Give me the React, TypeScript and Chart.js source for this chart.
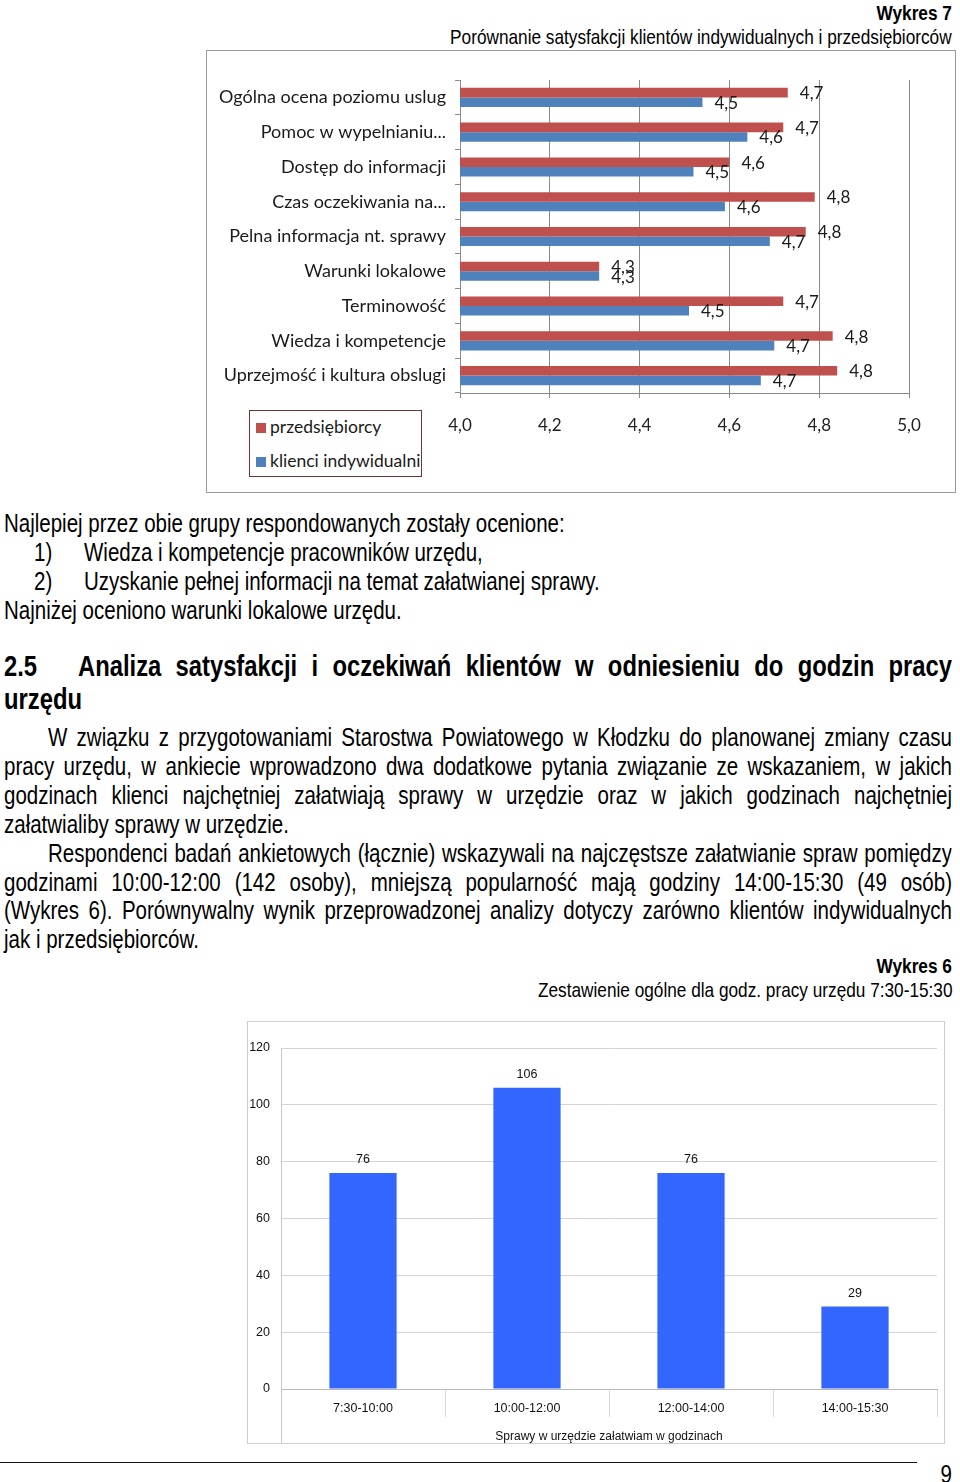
import React, { useEffect, useRef } from 'react';
import { Chart, registerables } from 'chart.js';

Chart.register(...registerables);

// ---------- Wykres 7 data ----------
const satisfactionCategories = [
  'Ogólna ocena poziomu uslug',
  'Pomoc w wypelnianiu...',
  'Dostęp do informacji',
  'Czas oczekiwania na...',
  'Pelna informacja nt. sprawy',
  'Warunki lokalowe',
  'Terminowość',
  'Wiedza i kompetencje',
  'Uprzejmość i kultura obslugi',
];
const przedsiebiorcyValues = [4.73, 4.72, 4.6, 4.79, 4.77, 4.31, 4.72, 4.83, 4.84];
const klienciValues = [4.54, 4.64, 4.52, 4.59, 4.69, 4.31, 4.51, 4.7, 4.67];
const satisfactionSeries = ['przedsiębiorcy', 'klienci indywidualni'];
const satisfactionColors = ['#C0504D', '#4F81BD'];
const satisfactionTicks = [4.0, 4.2, 4.4, 4.6, 4.8, 5.0];

// ---------- Wykres 6 data ----------
const hourCategories = ['7:30-10:00', '10:00-12:00', '12:00-14:00', '14:00-15:30'];
const hourValues = [76, 106, 76, 29];
const hourTicks = [0, 20, 40, 60, 80, 100, 120];
const hourAxisTitle = 'Sprawy w urzędzie załatwiam w godzinach';

const chartFont = 'Lato, "Open Sans", sans-serif';
const smallFont = '"Liberation Sans", Arial, sans-serif';
const bodyFont = '"Liberation Sans", Arial, sans-serif';
const NARROW = 0.82;

const fmtComma = (v: number) => v.toFixed(1).replace('.', ',');

const valueLabels = {
  id: 'valueLabels',
  afterDatasetsDraw(chart: any, _args: any, opts: any) {
    if (!opts || !opts.mode) return;
    const { ctx } = chart;
    ctx.save();
    ctx.font = opts.font;
    ctx.fillStyle = opts.color;
    chart.data.datasets.forEach((ds: any, di: number) => {
      const meta = chart.getDatasetMeta(di);
      meta.data.forEach((el: any, i: number) => {
        const v = ds.data[i];
        ctx.textBaseline = 'middle';
        if (opts.mode === 'right') {
          ctx.textAlign = 'left';
          ctx.fillText(opts.format(v), el.x + opts.offset, el.y + 1);
        } else {
          ctx.textAlign = 'center';
          ctx.fillText(opts.format(v), el.x, el.y - opts.offset);
        }
      });
    });
    ctx.restore();
  },
};

const leftLineExtend = {
  id: 'leftLineExtend',
  afterDraw(chart: any, _args: any, opts: any) {
    if (!opts || !opts.enabled) return;
    const { ctx, chartArea } = chart;
    ctx.save();
    ctx.strokeStyle = opts.color;
    ctx.lineWidth = 1;
    ctx.beginPath();
    ctx.moveTo(Math.round(chartArea.left) + 0.5, chartArea.bottom);
    ctx.lineTo(Math.round(chartArea.left) + 0.5, chart.height);
    ctx.stroke();
    ctx.restore();
  },
};

function SatisfactionChart() {
  const ref = useRef<HTMLCanvasElement | null>(null);
  useEffect(() => {
    if (!ref.current) return;
    const chart = new Chart(ref.current, {
      type: 'bar',
      data: {
        labels: satisfactionCategories,
        datasets: [
          {
            label: satisfactionSeries[0],
            data: przedsiebiorcyValues,
            backgroundColor: satisfactionColors[0],
            categoryPercentage: 0.55,
            barPercentage: 1.0,
          },
          {
            label: satisfactionSeries[1],
            data: klienciValues,
            backgroundColor: satisfactionColors[1],
            categoryPercentage: 0.55,
            barPercentage: 1.0,
          },
        ],
      },
      options: {
        indexAxis: 'y',
        responsive: false,
        animation: false,
        layout: { padding: { top: 30, right: 47, left: 0, bottom: 0 } },
        plugins: {
          legend: { display: false },
          tooltip: { enabled: false },
          valueLabels: {
            mode: 'right',
            offset: 12,
            font: `17px ${chartFont}`,
            color: '#1a1a1a',
            format: fmtComma,
          },
        } as any,
        scales: {
          x: {
            min: 4,
            max: 5,
            afterBuildTicks: (s: any) => {
              s.ticks = satisfactionTicks.map((v) => ({ value: v }));
            },
            afterFit: (s: any) => {
              s.height = 100;
            },
            ticks: {
              callback: (v: any) => fmtComma(Number(v)),
              font: { family: chartFont, size: 17 },
              color: '#222',
              padding: 17,
              maxRotation: 0,
            },
            grid: { color: '#8a8a8a', tickLength: 5, drawTicks: true },
            border: { color: '#8a8a8a' },
          },
          y: {
            afterFit: (s: any) => {
              s.width = 254;
            },
            ticks: {
              font: { family: chartFont, size: 18 },
              color: '#1a1a1a',
              padding: 9,
            },
            grid: { drawOnChartArea: false, tickLength: 5, color: '#8a8a8a', offset: true },
            border: { color: '#8a8a8a' },
          },
        },
      },
      plugins: [valueLabels],
    } as any);
    return () => chart.destroy();
  }, []);
  return <canvas ref={ref} width={750} height={443} style={{ position: 'absolute', left: 0, top: 0 }} />;
}

function HoursChart() {
  const ref = useRef<HTMLCanvasElement | null>(null);
  useEffect(() => {
    if (!ref.current) return;
    const n = hourCategories.length;
    const chart = new Chart(ref.current, {
      type: 'bar',
      data: {
        labels: hourCategories,
        datasets: [
          {
            label: hourAxisTitle,
            data: hourValues,
            backgroundColor: '#3366FF',
            categoryPercentage: 1.0,
            barPercentage: 0.41,
          },
        ],
      },
      options: {
        responsive: false,
        animation: false,
        layout: { padding: { top: 27, right: 8, left: 0, bottom: 0 } },
        plugins: {
          legend: { display: false },
          tooltip: { enabled: false },
          valueLabels: {
            mode: 'top',
            offset: 13,
            font: `12.5px ${smallFont}`,
            color: '#111',
            format: (v: number) => String(v),
          },
          leftLineExtend: { enabled: true, color: '#c8c8c8' },
        } as any,
        scales: {
          x: {
            afterFit: (s: any) => {
              s.height = 55;
            },
            ticks: {
              font: { family: smallFont, size: 12.5 },
              color: '#111',
              padding: -16,
              maxRotation: 0,
            },
            grid: {
              offset: true,
              tickLength: 28,
              color: (c: any) => (c.index === 0 || c.index === n ? '#c8c8c8' : 'rgba(0,0,0,0)'),
              tickColor: '#d8d8d8',
            },
            border: { color: '#b8b8b8' },
            title: {
              display: true,
              text: hourAxisTitle,
              font: { family: smallFont, size: 12 },
              color: '#111',
              padding: { top: 0, bottom: 0 },
            },
          },
          y: {
            min: 0,
            max: 120,
            afterBuildTicks: (s: any) => {
              s.ticks = hourTicks.map((v) => ({ value: v }));
            },
            afterFit: (s: any) => {
              s.width = 34;
            },
            ticks: {
              font: { family: smallFont, size: 12.5 },
              color: '#111',
              padding: 11,
            },
            grid: { color: '#d4d4d4', drawTicks: false },
            border: { color: '#c8c8c8' },
          },
        },
      },
      plugins: [valueLabels, leftLineExtend],
    } as any);
    return () => chart.destroy();
  }, []);
  return <canvas ref={ref} width={698} height={423} style={{ position: 'absolute', left: 0, top: 0 }} />;
}

type LineProps = {
  x: number;
  y: number;
  w?: number;
  text: string;
  justify?: boolean;
  right?: boolean;
  bold?: boolean;
  size?: number;
};

// Text line in an Arial-Narrow-like face (Liberation Sans condensed horizontally)
function Line({ x, y, w, text, justify, right, bold, size = 25 }: LineProps) {
  const lh = Math.round(size * 1.2);
  const style: React.CSSProperties = {
    position: 'absolute',
    top: y - lh / 2,
    height: lh,
    lineHeight: `${lh}px`,
    fontFamily: bodyFont,
    fontSize: size,
    fontWeight: bold ? 700 : 400,
    color: '#000',
    whiteSpace: 'nowrap',
    transform: `scaleX(${NARROW})`,
    transformOrigin: right ? 'right center' : 'left center',
  };
  if (right) {
    style.right = 960 - x;
    style.textAlign = 'right';
  } else {
    style.left = x;
  }
  if (justify && w) {
    style.width = w / NARROW;
    style.textAlign = 'justify';
    (style as any).textAlignLast = 'justify';
    style.whiteSpace = 'normal';
    style.overflow = 'hidden';
  }
  return <div style={style}>{text}</div>;
}

export default function App() {
  return (
    <div style={{ position: 'absolute', left: 0, top: 0, width: 960, height: 1482, background: '#fff', overflow: 'hidden' }}>
      <Line x={952} y={12} right bold size={21} text="Wykres 7" />
      <Line x={952} y={36} right size={21} text="Porównanie satysfakcji klientów indywidualnych i przedsiębiorców" />

      <div style={{ position: 'absolute', left: 206, top: 50, width: 750, height: 443 }}>
        <SatisfactionChart />
        <div style={{ position: 'absolute', inset: 0, border: '1px solid #9a9a9a', pointerEvents: 'none' }} />
      </div>
      <div
        style={{
          position: 'absolute',
          left: 249,
          top: 410,
          width: 173,
          height: 67,
          boxSizing: 'border-box',
          border: '1px solid #6e3434',
          background: '#fff',
          fontFamily: chartFont,
          fontSize: 17.5,
          color: '#1a1a1a',
        }}
      >
        {satisfactionSeries.map((s, i) => (
          <div key={s} style={{ position: 'absolute', left: 6, top: i === 0 ? 4 : 38, height: 24, lineHeight: '24px', whiteSpace: 'nowrap' }}>
            <span style={{ display: 'inline-block', width: 10, height: 10, background: satisfactionColors[i], marginRight: 4, verticalAlign: 'middle', position: 'relative', top: -1 }} />
            {s}
          </div>
        ))}
      </div>

      <Line x={4} y={523} text="Najlepiej przez obie grupy respondowanych zostały ocenione:" />
      <Line x={34} y={552} text="1)" />
      <Line x={84} y={552} text="Wiedza i kompetencje pracowników urzędu," />
      <Line x={34} y={581} text="2)" />
      <Line x={84} y={581} text="Uzyskanie pełnej informacji na temat załatwianej sprawy." />
      <Line x={4} y={610} text="Najniżej oceniono warunki lokalowe urzędu." />

      <Line x={4} y={666} bold size={29} text="2.5" />
      <Line x={78} y={666} w={874} justify bold size={29} text="Analiza satysfakcji i oczekiwań klientów w odniesieniu do godzin pracy" />
      <Line x={4} y={699} bold size={29} text="urzędu" />

      <Line x={48} y={737} w={904} justify text="W związku z przygotowaniami Starostwa Powiatowego w Kłodzku do planowanej zmiany czasu" />
      <Line x={4} y={766} w={948} justify text="pracy urzędu, w ankiecie wprowadzono dwa dodatkowe pytania związanie ze wskazaniem, w jakich" />
      <Line x={4} y={795} w={948} justify text="godzinach klienci najchętniej załatwiają sprawy w urzędzie oraz w jakich godzinach najchętniej" />
      <Line x={4} y={824} text="załatwialiby sprawy w urzędzie." />
      <Line x={48} y={853} w={904} justify text="Respondenci badań ankietowych (łącznie) wskazywali na najczęstsze załatwianie spraw pomiędzy" />
      <Line x={4} y={882} w={948} justify text="godzinami 10:00-12:00 (142 osoby), mniejszą popularność mają godziny 14:00-15:30 (49 osób)" />
      <Line x={4} y={910} w={948} justify text="(Wykres 6). Porównywalny wynik przeprowadzonej analizy dotyczy zarówno klientów indywidualnych" />
      <Line x={4} y={939} text="jak i przedsiębiorców." />

      <Line x={952} y={965} right bold size={21} text="Wykres 6" />
      <Line x={952} y={989} right size={21} text="Zestawienie ogólne dla godz. pracy urzędu 7:30-15:30" />

      <div style={{ position: 'absolute', left: 247, top: 1021, width: 698, height: 423 }}>
        <HoursChart />
        <div style={{ position: 'absolute', inset: 0, border: '1px solid #cfcfcf', pointerEvents: 'none' }} />
      </div>

      <div style={{ position: 'absolute', left: 0, top: 1462, width: 917, height: 0, borderTop: '1px solid #111' }} />
      <Line x={952} y={1474} right size={25} text="9" />
    </div>
  );
}
